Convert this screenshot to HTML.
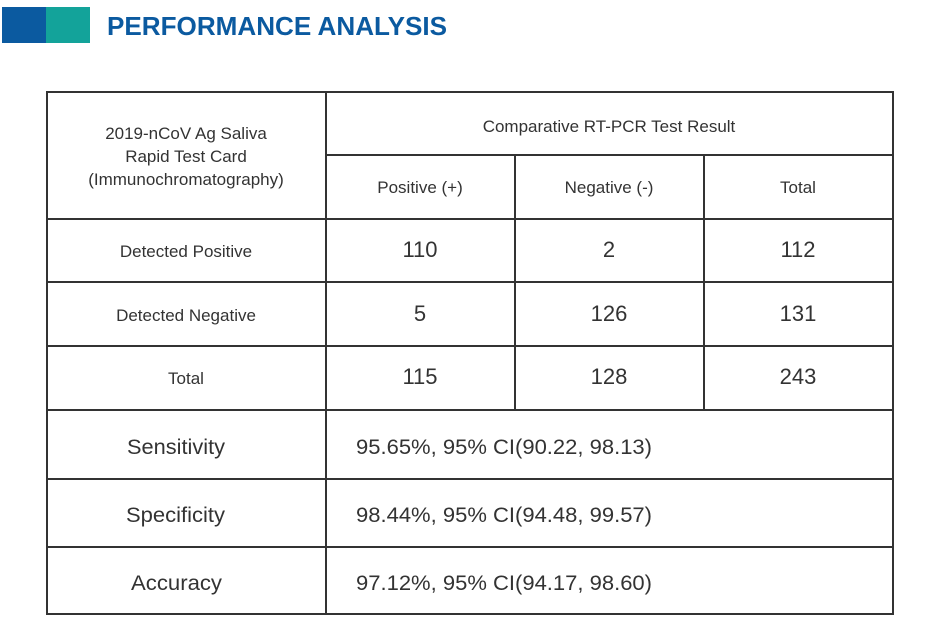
<!DOCTYPE html>
<html><head><style>
body{margin:0;background:#fff;width:938px;height:643px;overflow:hidden}
svg{display:block}
text{font-family:"Liberation Sans",Arial,sans-serif;fill:#333}
</style></head><body>
<svg width="938" height="643" xmlns="http://www.w3.org/2000/svg">
<rect x="2" y="7" width="44" height="36" fill="#0b5aa0"/>
<rect x="46" y="7" width="44" height="36" fill="#13a39a"/>
<text x="107" y="35" font-size="26" font-weight="bold" style="fill:#0b5aa0" textLength="340" lengthAdjust="spacingAndGlyphs">PERFORMANCE ANALYSIS</text>
<g stroke="#333" stroke-width="2" fill="none">
<rect x="47" y="92" width="846" height="522"/>
<line x1="326" y1="92" x2="326" y2="614"/>
<line x1="515" y1="155" x2="515" y2="410"/>
<line x1="704" y1="155" x2="704" y2="410"/>
<line x1="326" y1="155" x2="893" y2="155"/>
<line x1="47" y1="219" x2="893" y2="219"/>
<line x1="47" y1="282" x2="893" y2="282"/>
<line x1="47" y1="346" x2="893" y2="346"/>
<line x1="47" y1="410" x2="893" y2="410"/>
<line x1="47" y1="479" x2="893" y2="479"/>
<line x1="47" y1="547" x2="893" y2="547"/>
</g>
<g text-anchor="middle" font-size="17">
<text x="186" y="139">2019-nCoV Ag Saliva</text>
<text x="186" y="162">Rapid Test Card</text>
<text x="186" y="185">(Immunochromatography)</text>
<text x="609" y="132">Comparative RT-PCR Test Result</text>
<text x="420" y="193">Positive (+)</text>
<text x="609" y="193">Negative (-)</text>
<text x="798" y="193">Total</text>
<text x="186" y="257">Detected Positive</text>
<text x="186" y="321">Detected Negative</text>
<text x="186" y="384">Total</text>
</g>
<g text-anchor="middle" font-size="22">
<text x="420" y="257">110</text><text x="609" y="257">2</text><text x="798" y="257">112</text>
<text x="420" y="321">5</text><text x="609" y="321">126</text><text x="798" y="321">131</text>
<text x="420" y="384">115</text><text x="609" y="384">128</text><text x="798" y="384">243</text>
</g>
<g font-size="21">
<text x="127" y="454" textLength="98" lengthAdjust="spacingAndGlyphs">Sensitivity</text>
<text x="126" y="522" textLength="99" lengthAdjust="spacingAndGlyphs">Specificity</text>
<text x="131" y="590" textLength="91" lengthAdjust="spacingAndGlyphs">Accuracy</text>
<text x="356" y="454" textLength="296" lengthAdjust="spacingAndGlyphs">95.65%, 95% CI(90.22, 98.13)</text>
<text x="356" y="522" textLength="296" lengthAdjust="spacingAndGlyphs">98.44%, 95% CI(94.48, 99.57)</text>
<text x="356" y="590" textLength="296" lengthAdjust="spacingAndGlyphs">97.12%, 95% CI(94.17, 98.60)</text>
</g>
</svg>
</body></html>
